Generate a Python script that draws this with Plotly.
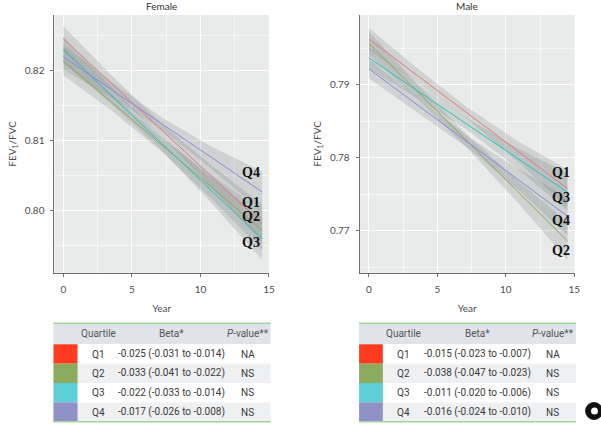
import plotly.graph_objects as go

W, H = 601, 424

# ---------------- data ----------------
quartiles = ["Q1", "Q2", "Q3", "Q4"]
line_colors = ["#F0727A", "#8FA84A", "#1FC4BE", "#8A84E6"]
swatch_colors = ["#FF3A1E", "#8CAB5E", "#5ECFD6", "#8F92C6"]

years_line = [0, 14.5]
years_band = [0, 3.6, 7.2, 10.8, 14.5]

# Female fitted lines (start, end)
female_fit = {
    "Q1": [0.8246, 0.7982],
    "Q2": [0.8214, 0.7972],
    "Q3": [0.8230, 0.7960],
    "Q4": [0.8220, 0.8027],
}
female_lower = {
    "Q1": [0.8228, 0.8170, 0.8106, 0.8033, 0.7955],
    "Q2": [0.8194, 0.8142, 0.8084, 0.8017, 0.7944],
    "Q3": [0.8211, 0.8151, 0.8086, 0.8011, 0.7930],
    "Q4": [0.8202, 0.8161, 0.8115, 0.8060, 0.7998],
}
female_upper = {
    "Q1": [0.8264, 0.8192, 0.8124, 0.8065, 0.8009],
    "Q2": [0.8234, 0.8166, 0.8104, 0.8051, 0.8000],
    "Q3": [0.8249, 0.8175, 0.8106, 0.8047, 0.7990],
    "Q4": [0.8238, 0.8183, 0.8133, 0.8092, 0.8056],
}
female_label_x = 13.7
female_label_y = {"Q1": 0.8012, "Q2": 0.79914, "Q3": 0.79543, "Q4": 0.80543}

# Male fitted lines (start, end)
male_fit = {
    "Q1": [0.7963, 0.7758],
    "Q2": [0.7957, 0.7686],
    "Q3": [0.7937, 0.7753],
    "Q4": [0.7922, 0.7720],
}
male_lower = {
    "Q1": [0.7948, 0.7902, 0.7853, 0.7796, 0.7732],
    "Q2": [0.7941, 0.7880, 0.7813, 0.7740, 0.7660],
    "Q3": [0.7922, 0.7881, 0.7838, 0.7786, 0.7727],
    "Q4": [0.7909, 0.7862, 0.7814, 0.7758, 0.7694],
}
male_upper = {
    "Q1": [0.7978, 0.7922, 0.7869, 0.7824, 0.7784],
    "Q2": [0.7973, 0.7900, 0.7831, 0.7770, 0.7712],
    "Q3": [0.7952, 0.7901, 0.7854, 0.7814, 0.7779],
    "Q4": [0.7935, 0.7882, 0.7830, 0.7786, 0.7746],
}
male_label_x = 14.04
male_label_y = {"Q1": 0.77795, "Q2": 0.76736, "Q3": 0.77452, "Q4": 0.77147}

x_ticks = [0, 5, 10, 15]
female_y_ticks = [0.80, 0.81, 0.82]
male_y_ticks = [0.77, 0.78, 0.79]

table_header = ["Quartile", "Beta*", "<i>P</i>-value**"]
female_beta = ["-0.025 (-0.031 to -0.014)", "-0.033 (-0.041 to -0.022)",
               "-0.022 (-0.033 to -0.014)", "-0.017 (-0.026 to -0.008)"]
female_p = ["NA", "NS", "NS", "NS"]
male_beta = ["-0.015 (-0.023 to -0.007)", "-0.038 (-0.047 to -0.023)",
             "-0.011 (-0.020 to -0.006)", "-0.016 (-0.024 to -0.010)"]
male_p = ["NA", "NS", "NS", "NS"]

# ---------------- helpers ----------------
def px(x):
    return x / W

def py(y):
    return 1 - y / H

fig = go.Figure()

band_fill = "rgba(125,133,133,0.24)"

def add_panel(fit, lower, upper, xa, ya):
    for q in quartiles:
        fig.add_trace(go.Scatter(
            x=years_band + years_band[::-1],
            y=upper[q] + lower[q][::-1],
            fill="toself", fillcolor=band_fill, line=dict(width=0),
            mode="lines", hoverinfo="skip", showlegend=False,
            xaxis=xa, yaxis=ya))
    for q, c in zip(quartiles, line_colors):
        fig.add_trace(go.Scatter(
            x=years_line, y=fit[q], mode="lines",
            line=dict(color=c, width=1.0), showlegend=False,
            xaxis=xa, yaxis=ya))

add_panel(female_fit, female_lower, female_upper, "x", "y")
add_panel(male_fit, male_lower, male_upper, "x2", "y2")

tick_font = dict(family="Lato, Roboto, sans-serif", size=10, color="#4d4d4d")
ydom = [py(272.7), py(15)]

common_x = dict(
    tickvals=x_ticks, showline=True, linecolor="#707070", linewidth=1,
    ticks="outside", ticklen=3, tickcolor="#707070", gridcolor="#FFFFFF",
    gridwidth=1, zeroline=False, tickfont=tick_font, ticklabelstandoff=4,
    minor=dict(dtick=2.5, showgrid=True, gridcolor="rgba(255,255,255,0.55)", gridwidth=0.6),
    title=dict(text="Year", font=tick_font, standoff=11),
)
common_y = dict(
    showline=True, linecolor="#707070", linewidth=1,
    ticks="outside", ticklen=3, tickcolor="#707070", gridcolor="#FFFFFF",
    gridwidth=1, zeroline=False, tickfont=tick_font, ticklabelstandoff=4,
    minor=dict(dtick=0.005, showgrid=True, gridcolor="rgba(255,255,255,0.55)", gridwidth=0.6),
    title=dict(text="FEV<sub>1</sub>/FVC", font=dict(family="Lato, Roboto, sans-serif", size=10, color="#4d4d4d"), standoff=6),
)

fig.update_layout(
    width=W, height=H, margin=dict(l=0, r=0, t=0, b=0),
    paper_bgcolor="#FFFFFF", plot_bgcolor="#E8EBEA",
    xaxis=dict(domain=[px(55), px(271.7)], range=[-0.65, 15], anchor="y", **common_x),
    yaxis=dict(domain=ydom, range=[0.79114, 0.828], tickvals=female_y_ticks,
               tickformat=".2f", anchor="x", **common_y),
    xaxis2=dict(domain=[px(363.3), px(580.5)], range=[-0.68, 15.03], anchor="y2", **common_x),
    yaxis2=dict(domain=ydom, range=[0.76425, 0.7996], tickvals=male_y_ticks,
                tickformat=".2f", anchor="x2", **common_y),
)

ann = []
title_font = dict(family="Lato, Roboto, sans-serif", size=10, color="#333")
ann.append(dict(text="Female", x=px(163.3), y=py(6), xref="paper", yref="paper",
                xanchor="center", yanchor="middle", showarrow=False, font=title_font))
ann.append(dict(text="Male", x=px(471.5), y=py(6), xref="paper", yref="paper",
                xanchor="center", yanchor="middle", showarrow=False, font=title_font))

qfont = dict(family="Liberation Serif, Times New Roman, serif", size=14, color="#111")
for q in quartiles:
    ann.append(dict(text="<b>%s</b>" % q, x=female_label_x, y=female_label_y[q], xref="x", yref="y",
                    xanchor="center", yanchor="middle", showarrow=False, font=qfont))
    ann.append(dict(text="<b>%s</b>" % q, x=male_label_x, y=male_label_y[q], xref="x2", yref="y2",
                    xanchor="center", yanchor="middle", showarrow=False, font=qfont))

# ---------------- tables ----------------
shapes = []
tfam = "Roboto, sans-serif"
tfont_h = dict(family=tfam, size=10, color="#555")
tfont = dict(family=tfam, size=10, color="#3a3a3a")

row_edges = [323.3, 344.3, 363.7, 383.0, 402.4, 421.7]

def add_table(x0, x1, sw1, col_centers, betas, pvals):
    shapes.append(dict(type="rect", xref="paper", yref="paper", x0=px(x0), x1=px(x1),
                       y0=py(row_edges[1]), y1=py(row_edges[0]), fillcolor="#E0E4E9", line=dict(width=0), layer="below"))
    for i in range(4):
        fill = "#FFFFFF" if i % 2 == 0 else "#EEF0F2"
        shapes.append(dict(type="rect", xref="paper", yref="paper", x0=px(x0), x1=px(x1),
                           y0=py(row_edges[i + 2]), y1=py(row_edges[i + 1]), fillcolor=fill,
                           line=dict(width=0), layer="below"))
        shapes.append(dict(type="rect", xref="paper", yref="paper", x0=px(x0), x1=px(sw1),
                           y0=py(row_edges[i + 2]), y1=py(row_edges[i + 1]), fillcolor=swatch_colors[i],
                           line=dict(width=0)))
    for yy in (row_edges[0], row_edges[-1]):
        shapes.append(dict(type="line", xref="paper", yref="paper", x0=px(x0), x1=px(x1),
                           y0=py(yy), y1=py(yy), line=dict(color="#A3D49E", width=1.5)))
    ymid = (row_edges[0] + row_edges[1]) / 2
    for t, cx in zip(table_header, col_centers):
        ann.append(dict(text=t, x=px(cx), y=py(ymid), xref="paper", yref="paper",
                        xanchor="center", yanchor="middle", showarrow=False, font=tfont_h))
    for i in range(4):
        ymid = (row_edges[i + 1] + row_edges[i + 2]) / 2
        for t, cx in zip([quartiles[i], betas[i], pvals[i]], col_centers):
            ann.append(dict(text=t, x=px(cx), y=py(ymid), xref="paper", yref="paper",
                            xanchor="center", yanchor="middle", showarrow=False, font=tfont))

add_table(54, 273.3, 78.3, [99.3, 173.3, 250], female_beta, female_p)
add_table(362.7, 581.7, 386.7, [407.7, 482.7, 558.3], male_beta, male_p)

# corner badge
shapes.append(dict(type="circle", xref="paper", yref="paper", x0=px(591), x1=px(609),
                   y0=py(420), y1=py(402), fillcolor="#111", line=dict(width=0)))
shapes.append(dict(type="circle", xref="paper", yref="paper", x0=px(597), x1=px(604),
                   y0=py(414.5), y1=py(407.5), fillcolor="#FFFFFF", line=dict(width=0)))

fig.update_layout(annotations=ann, shapes=shapes)

fig.write_html("out.html")
